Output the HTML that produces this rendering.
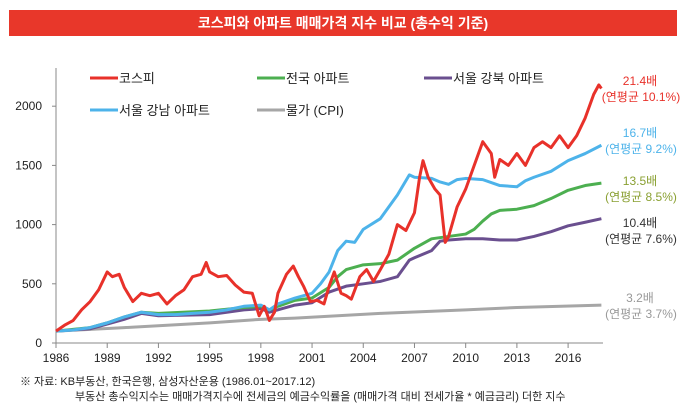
<!DOCTYPE html>
<html><head><meta charset="utf-8"><style>
body{margin:0;background:#fff;width:691px;height:407px;overflow:hidden;font-family:"Liberation Sans","Noto Sans CJK KR",sans-serif}
svg text{font-family:"Liberation Sans","Noto Sans CJK KR",sans-serif}
</style></head><body>
<svg width="691" height="407">
<rect x="9" y="10" width="668" height="26" fill="#e8372a"/>
<text x="343" y="28" fill="#fff" font-size="14" font-weight="bold" text-anchor="middle">코스피와 아파트 매매가격 지수 비교 (총수익 기준)</text>
<g id="axes"></g><g id="series"></g><g id="legend"></g>
<text x="20" y="385" font-size="11" fill="#222">※ 자료: KB부동산, 한국은행, 삼성자산운용 (1986.01~2017.12)</text>
<text x="75" y="400" font-size="11" fill="#222">부동산 총수익지수는 매매가격지수에 전세금의 예금수익률을 (매매가격 대비 전세가율 * 예금금리) 더한 지수</text>
</svg>
<script>
const yTicks=[0,500,1000,1500,2000];
const xTicks=[1986,1989,1992,1995,1998,2001,2004,2007,2010,2013,2016];
const kospiT=[1986,1986.5,1987,1987.5,1988,1988.5,1989,1989.3,1989.7,1990,1990.5,1991,1991.5,1992,1992.5,1993,1993.5,1994,1994.5,1994.8,1995,1995.5,1996,1996.5,1997,1997.5,1997.9,1998.2,1998.5,1998.8,1999,1999.5,1999.9,2000.2,2000.5,2000.9,2001.3,2001.7,2002,2002.3,2002.7,2003,2003.3,2003.8,2004.2,2004.6,2005,2005.5,2006,2006.5,2007,2007.3,2007.5,2007.8,2008.2,2008.5,2008.8,2009,2009.5,2010,2010.5,2011,2011.5,2011.7,2012,2012.5,2013,2013.5,2014,2014.5,2015,2015.5,2016,2016.5,2017,2017.5,2017.8,2017.95];
const kospiV=[100,150,190,280,350,450,600,560,580,470,350,420,400,420,330,400,450,560,580,680,600,560,570,490,430,420,230,310,190,260,420,580,650,560,480,350,360,330,480,600,420,400,370,560,620,520,620,750,1000,950,1100,1400,1540,1400,1300,1250,850,900,1150,1300,1500,1700,1600,1400,1550,1500,1600,1500,1650,1700,1650,1750,1650,1750,1900,2100,2180,2150];
const gangT=[1986,1987,1988,1989,1990,1991,1992,1993,1994,1995,1996,1997,1998,1998.5,1999,2000,2001,2001.5,2002,2002.5,2003,2003.5,2004,2005,2006,2006.7,2007,2008,2008.5,2009,2009.5,2010,2011,2012,2013,2013.5,2014,2015,2016,2017,2017.95];
const gangV=[100,110,130,170,220,260,240,240,250,260,280,310,320,280,330,380,420,500,600,780,860,850,960,1050,1250,1420,1400,1390,1360,1340,1380,1390,1380,1330,1320,1370,1400,1450,1540,1600,1670];
const natT=[1986,1988,1989,1990,1991,1992,1995,1997,1998,1998.5,1999,2000,2001,2002,2002.5,2003,2004,2005,2006,2007,2008,2009,2010,2010.5,2011,2011.5,2012,2013,2014,2015,2016,2017,2017.95];
const natV=[100,130,170,220,260,250,270,300,310,280,310,360,380,470,560,620,660,670,700,800,880,900,920,960,1030,1090,1120,1130,1160,1220,1290,1330,1350];
const gbT=[1986,1988,1989,1990,1991,1992,1995,1997,1998,1998.5,1999,2000,2001,2002,2003,2004,2005,2006,2006.7,2007,2008,2008.5,2009,2010,2011,2012,2013,2014,2015,2016,2017,2017.95];
const gbV=[100,120,160,200,250,230,240,280,290,260,280,320,340,430,480,500,520,560,700,720,780,860,870,880,880,870,870,900,940,990,1020,1050];
const cpiT=[1986,1990,1995,1998,2000,2005,2010,2013,2017.95];
const cpiV=[100,130,170,200,210,250,280,300,320];
const X=t=>56+(t-1986)*17.07, Y=v=>343-v*0.1184;
const NS='http://www.w3.org/2000/svg';
function mk(tag,attrs,parent,txt){const e=document.createElementNS(NS,tag);for(const k in attrs)e.setAttribute(k,attrs[k]);if(txt!=null)e.textContent=txt;document.getElementById(parent).appendChild(e);return e;}
let a=mk('line',{x1:56,y1:68,x2:56,y2:343,stroke:'#888'},'axes');


a=mk('line',{x1:56,y1:343,x2:603,y2:343,stroke:'#888'},'axes');


yTicks.forEach(v=>{mk('line',{x1:52,y1:Y(v),x2:56,y2:Y(v),stroke:'#888'},'axes');
const t=mk('text',{x:42,y:Y(v)+4,'font-size':12,'text-anchor':'end',fill:'#222'},'axes',v);

});
xTicks.forEach(v=>{mk('line',{x1:X(v),y1:343,x2:X(v),y2:348,stroke:'#888'},'axes');
const t=mk('text',{x:X(v),y:362,'font-size':12,'text-anchor':'middle',fill:'#222'},'axes',v);

});
function line(T,V,c,name){const p=mk('polyline',{points:T.map((t,i)=>X(t)+','+Y(V[i])).join(' '),fill:'none',stroke:c,'stroke-width':3,'stroke-linejoin':'round'},'series');

}
line(cpiT,cpiV,'#a6a6a6','line-cpi');
line(gbT,gbV,'#6a4f8f','line-gangbuk');
line(natT,natV,'#4caf50','line-national');
line(gangT,gangV,'#4db3ea','line-gangnam');
line(kospiT,kospiV,'#e8312a','line-kospi');
const leg=[['코스피','#e8312a',90,75],['전국 아파트','#4caf50',257,75],['서울 강북 아파트','#6a4f8f',424,75],['서울 강남 아파트','#4db3ea',90,107],['물가 (CPI)','#a6a6a6',257,107]];
leg.forEach(l=>{const g=mk('g',{},'legend');


const ln=document.createElementNS(NS,'line');ln.setAttribute('x1',l[2]);ln.setAttribute('x2',l[2]+28);ln.setAttribute('y1',l[3]+3);ln.setAttribute('y2',l[3]+3);ln.setAttribute('stroke',l[1]);ln.setAttribute('stroke-width',3);g.appendChild(ln);
const tx=document.createElementNS(NS,'text');tx.setAttribute('x',l[2]+29);tx.setAttribute('y',l[3]+8);tx.setAttribute('font-size',13);tx.setAttribute('fill','#222');tx.textContent=l[0];g.appendChild(tx);});
const lab=[['21.4배','(연평균 10.1%)','#e8312a',85],['16.7배','(연평균 9.2%)','#4db3ea',137],['13.5배','(연평균 8.5%)','#8aa032',185],['10.4배','(연평균 7.6%)','#333',227],['3.2배','(연평균 3.7%)','#999',302]];
lab.forEach(l=>{const t1=mk('text',{x:640,y:l[3],'font-size':12,'text-anchor':'middle',fill:l[2]},'legend',l[0]);


const t2=mk('text',{x:641,y:l[3]+16,'font-size':12,'text-anchor':'middle',fill:l[2]},'legend',l[1]);

});
</script>
</body></html>
